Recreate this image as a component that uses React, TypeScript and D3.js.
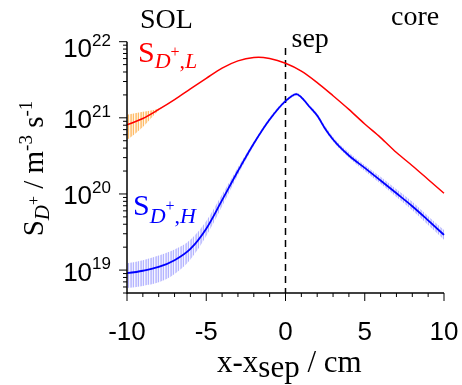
import React from 'react';
import * as d3 from 'd3';

const W = 462;
const H = 385;

// axis tick labels
const xTickLabels = [-10, -5, 0, 5, 10];
const yTickLabels = [1e19, 1e20, 1e21, 1e22];
const yExponents = ['19', '20', '21', '22'];

// S_D+,L (red) with its orange error band at the SOL edge
const redX = [-10, -9, -8, -7, -6, -5, -4, -3, -2, -1.7, -1, 0, 1, 2, 3, 4, 5, 6, 7, 8, 9, 10];
const redS = [8.1e20, 9.8e20, 1.29e21, 1.74e21, 2.4e21, 3.3e21, 4.5e21, 5.6e21, 6.2e21, 6.25e21, 6.0e21, 5.2e21,
  4.1e21, 2.9e21, 1.95e21, 1.29e21, 8.3e20, 5.5e20, 3.5e20, 2.35e20, 1.55e20, 1.02e20];
const orangeX = [-10, -9, -8, -7.5];
const orangeLo = [5.1e20, 7.6e20, 1.25e21, 1.5e21];
const orangeHi = [1.1e21, 1.2e21, 1.33e21, 1.5e21];

// S_D+,H (blue) with its error band
const blueX = [-10, -9, -8, -7, -6, -5, -4, -3, -2, -1, 0, 0.7, 1, 1.5, 2, 2.5, 3, 4, 5, 6, 7, 8, 9, 10];
const blueS = [9.1e18, 9.8e18, 1.1e19, 1.35e19, 1.9e19, 3.5e19, 8.3e19, 2.0e20, 4.6e20, 9.5e20, 1.66e21, 2.05e21,
  1.86e21, 1.41e21, 1.07e21, 7.2e20, 5.2e20, 3.2e20, 2.2e20, 1.5e20, 1.02e20, 6.9e19, 4.5e19, 2.9e19];
const blueLo = [5.8e18, 6.2e18, 6.9e18, 8.9e18, 1.38e19, 2.8e19, 6.9e19, 1.78e20, 4.3e20, 9.0e20, 1.58e21, 1.95e21,
  1.78e21, 1.35e21, 1.01e21, 6.8e20, 4.9e20, 3.0e20, 2.0e20, 1.36e20, 9.1e19, 6.1e19, 3.9e19, 2.5e19];
const blueHi = [1.23e19, 1.35e19, 1.55e19, 1.86e19, 2.5e19, 4.4e19, 9.8e19, 2.24e20, 4.9e20, 1.01e21, 1.74e21, 2.14e21,
  1.95e21, 1.48e21, 1.14e21, 7.8e20, 5.6e20, 3.5e20, 2.4e20, 1.68e20, 1.15e20, 7.9e19, 5.1e19, 3.35e19];

const sans = '"Liberation Sans", Arial, sans-serif';
const serif = '"Liberation Serif", "Times New Roman", serif';

export default function App() {
  const x = d3.scaleLinear().domain([-10, 10]).range([127, 444]);
  const y = d3.scaleLog().domain([5e18, 1e22]).range([293, 41.7]);
  const [y0, y1] = y.range();

  const line = d3.line<[number, number]>()
    .x(d => x(d[0]))
    .y(d => y(d[1]))
    .curve(d3.curveMonotoneX);
  const band = d3.area<[number, number, number]>()
    .x(d => x(d[0]))
    .y0(d => y(d[1]))
    .y1(d => y(d[2]))
    .curve(d3.curveMonotoneX);

  const redPath = line(redX.map((v, i) => [v, redS[i]]));
  const bluePath = line(blueX.map((v, i) => [v, blueS[i]]));
  const orangeBand = band(orangeX.map((v, i) => [v, orangeLo[i], orangeHi[i]]));
  const blueBand = band(blueX.map((v, i) => [v, blueLo[i], blueHi[i]]));

  const xMinor = d3.range(-10, 10.5, 1);
  const yMinor = y.ticks().filter(t => t >= 5e18 && t <= 1e22);

  return (
    <svg width={W} height={H} style={{ position: 'fixed', left: 0, top: 0 }}>
      <defs>
        <pattern id="hatchBlue" patternUnits="userSpaceOnUse" width={2.5} height={10}>
          <line x1={1} y1={0} x2={1} y2={10} stroke="#8f8fff" strokeWidth={1} />
        </pattern>
        <pattern id="hatchOrange" patternUnits="userSpaceOnUse" width={2.5} height={10}>
          <line x1={1} y1={0} x2={1} y2={10} stroke="#ff9a1a" strokeWidth={1} />
        </pattern>
      </defs>

      {/* bands */}
      <path d={blueBand ?? ''} fill="url(#hatchBlue)" />
      <path d={orangeBand ?? ''} fill="url(#hatchOrange)" />

      {/* separatrix */}
      <line x1={x(0)} x2={x(0)} y1={48} y2={y0} stroke="#000" strokeWidth={1.5} strokeDasharray="7,5" />

      <path d={redPath ?? ''} fill="none" stroke="#ff0000" strokeWidth={1.5} />
      <path d={bluePath ?? ''} fill="none" stroke="#0000ff" strokeWidth={1.8} />

      {/* y axis */}
      <line x1={127} x2={127} y1={y1} y2={y0 + 0.75} stroke="#000" strokeWidth={1.5} />
      {yMinor.map(t => {
        const major = yTickLabels.includes(t);
        return <line key={t} x1={127} x2={127 - (major ? 8 : 4)} y1={y(t)} y2={y(t)} stroke="#000" strokeWidth={1} />;
      })}
      {yTickLabels.map((t, i) => (
        <text key={t} x={111} y={Math.max(y(t) + 10.5, y1 + 15.3)} textAnchor="end" fontFamily={sans} fontSize={26}>
          10<tspan dy={-11.5} fontSize={17}>{yExponents[i]}</tspan>
        </text>
      ))}

      {/* x axis */}
      <line x1={127} x2={444} y1={y0} y2={y0} stroke="#000" strokeWidth={1.5} />
      {xMinor.map(t => {
        const major = xTickLabels.includes(t);
        return <line key={t} x1={x(t)} x2={x(t)} y1={y0} y2={y0 + (major ? 8 : 4)} stroke="#000" strokeWidth={1} />;
      })}
      {xTickLabels.map(t => (
        <text key={t} x={x(t)} y={339.5} textAnchor="middle" fontFamily={sans} fontSize={26}>{String(t)}</text>
      ))}

      {/* axis titles */}
      <text x={217} y={371.5} fontFamily={serif} fontSize={31}>
        x-x<tspan dy={5}>sep</tspan><tspan dy={-5}> / cm</tspan>
      </text>
      <text transform="translate(43,168.5) rotate(-90)" textAnchor="middle" fontFamily={serif} fontSize={29}>
        S<tspan dy={6} fontSize={21} fontStyle="italic">D</tspan><tspan dy={-10} fontSize={16}>+</tspan>
        <tspan dy={4}> / m</tspan><tspan dy={-11} fontSize={19}>-3</tspan><tspan dy={11}> s</tspan>
        <tspan dy={-11} fontSize={19}>-1</tspan>
      </text>

      {/* annotations */}
      <text x={140} y={28.3} fontFamily={serif} fontSize={28}>SOL</text>
      <text x={391} y={25} fontFamily={serif} fontSize={28}>core</text>
      <text x={291.5} y={46.7} fontFamily={serif} fontSize={28}>sep</text>

      <text x={138} y={61.7} fill="#ff0000" fontFamily={serif} fontSize={30}>
        S<tspan dy={6.5} fontSize={22} fontStyle="italic">D</tspan><tspan dy={-11.5} fontSize={16}>+</tspan>
        <tspan dy={11.5} fontSize={22}>,</tspan><tspan fontSize={22} fontStyle="italic">L</tspan>
      </text>
      <text x={133} y={215} fill="#0000ff" fontFamily={serif} fontSize={30}>
        S<tspan dy={7.5} fontSize={22} fontStyle="italic">D</tspan><tspan dy={-11.5} fontSize={16}>+</tspan>
        <tspan dy={11.5} fontSize={22}>,</tspan><tspan fontSize={22} fontStyle="italic">H</tspan>
      </text>
    </svg>
  );
}
